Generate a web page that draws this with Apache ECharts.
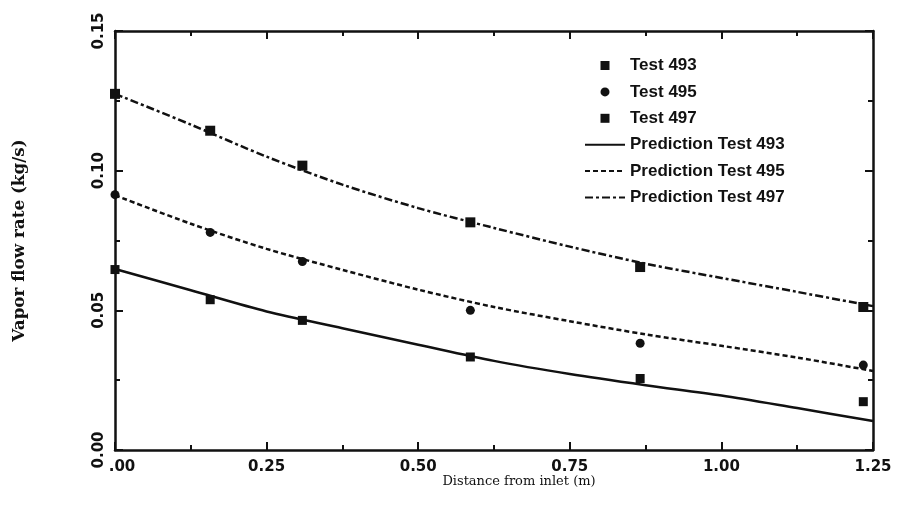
<!DOCTYPE html>
<html>
<head>
<meta charset="utf-8">
<script src="https://cdn.jsdelivr.net/npm/echarts@6/dist/echarts.min.js"></script>
<style>
  html, body { margin: 0; padding: 0; background: #fff; }
  #chart { width: 898px; height: 505px; }
</style>
</head>
<body>
<div id="chart"></div>
<script>
// Measured vapor flow rate at each station (m, kg/s)
const xMeasured = [0, 0.157, 0.309, 0.586, 0.866, 1.234];
const test493 = [0.0646, 0.0538, 0.0464, 0.0333, 0.0256, 0.0173];
const test495 = [0.0914, 0.0779, 0.0675, 0.0500, 0.0382, 0.0304];
const test497 = [0.1275, 0.1143, 0.1018, 0.0815, 0.0655, 0.0512];

// Model predictions along the tube
const xPredicted = [0, 0.125, 0.25, 0.375, 0.5, 0.625, 0.75, 0.875, 1.0, 1.125, 1.25];
const pred493 = [0.0648, 0.0572, 0.0496, 0.0436, 0.0377, 0.0319, 0.0272, 0.0232, 0.0195, 0.0150, 0.0104];
const pred495 = [0.0912, 0.0810, 0.0720, 0.0645, 0.0574, 0.0512, 0.0461, 0.0414, 0.0373, 0.0331, 0.0283];
const pred497 = [0.1275, 0.1165, 0.1050, 0.0950, 0.0866, 0.0795, 0.0728, 0.0667, 0.0616, 0.0566, 0.0515];

const xTicks = [0, 0.25, 0.5, 0.75, 1.0, 1.25];
const yTicks = [0, 0.05, 0.10, 0.15];

const pairs = (xs, ys) => xs.map((x, i) => [x, ys[i]]);

const INK = '#111';
const tickFont = { fontFamily: 'DejaVu Sans', fontWeight: 'bold', fontSize: 15, color: INK };

// A framed axis: thick line, major and minor ticks pointing into the plot
function axisBase(extra) {
  return Object.assign({
    type: 'value',
    axisLine: { show: true, onZero: false, lineStyle: { color: INK, width: 2.5 } },
    axisTick: { show: true, inside: true, length: 8, lineStyle: { color: INK, width: 2 } },
    minorTick: { show: true, splitNumber: 2, length: 5, lineStyle: { color: INK, width: 2 } },
    splitLine: { show: false },
    minorSplitLine: { show: false }
  }, extra);
}

const chart = echarts.init(document.getElementById('chart'), null, { renderer: 'canvas' });

const squareIcon = 'path://M0 0H10V10H0Z';
const hiddenMarker = { opacity: 0 };

chart.setOption({
  animation: false,
  backgroundColor: '#fff',
  grid: { left: 115, top: 31, right: 25, bottom: 55, containLabel: false },
  xAxis: [
    axisBase({
      position: 'bottom',
      min: xTicks[0], max: xTicks[xTicks.length - 1], interval: 0.25,
      name: 'Distance from inlet (m)',
      nameLocation: 'middle',
      nameGap: 25.5,
      nameMoveOverlap: false,
      nameTextStyle: { fontFamily: 'DejaVu Serif', fontSize: 13, color: INK, padding: [0, 0, 0, 50] },
      axisLabel: {
        margin: 10,
        formatter: v => v === 0 ? '{z|.00}' : v.toFixed(2),
        rich: { z: Object.assign({ padding: [0, 0, 0, 14] }, tickFont) },
        ...tickFont
      }
    }),
    axisBase({
      position: 'top',
      min: xTicks[0], max: xTicks[xTicks.length - 1], interval: 0.25,
      axisLabel: { show: false }
    })
  ],
  yAxis: [
    axisBase({
      position: 'left',
      min: yTicks[0], max: yTicks[yTicks.length - 1], interval: 0.05,
      name: 'Vapor flow rate (kg/s)',
      nameLocation: 'middle',
      nameRotate: 90,
      nameGap: 87,
      nameMoveOverlap: false,
      nameTextStyle: { fontFamily: 'DejaVu Serif', fontWeight: 'bold', fontSize: 16.8, color: INK },
      axisLabel: { rotate: 90, margin: 8, formatter: v => v.toFixed(2), ...tickFont }
    }),
    axisBase({
      position: 'right',
      min: yTicks[0], max: yTicks[yTicks.length - 1], interval: 0.05,
      axisLabel: { show: false }
    })
  ],
  legend: {
    orient: 'vertical',
    left: 584,
    top: 57,
    padding: 0,
    itemWidth: 40,
    itemHeight: 9,
    itemGap: 9.4,
    selectedMode: false,
    textStyle: { fontFamily: 'Liberation Sans', fontWeight: 'bold', fontSize: 17, color: INK },
    data: [
      { name: 'Test 493', icon: squareIcon },
      { name: 'Test 495', icon: 'circle' },
      { name: 'Test 497', icon: squareIcon },
      { name: 'Prediction Test 493', itemStyle: hiddenMarker },
      { name: 'Prediction Test 495', itemStyle: hiddenMarker },
      { name: 'Prediction Test 497', itemStyle: hiddenMarker }
    ]
  },
  series: [
    {
      name: 'Prediction Test 493', type: 'line', smooth: 0.3, symbol: 'none',
      data: pairs(xPredicted, pred493),
      lineStyle: { color: INK, width: 2.5, type: 'solid' }, itemStyle: { color: INK }, z: 2
    },
    {
      name: 'Prediction Test 495', type: 'line', smooth: 0.3, symbol: 'none',
      data: pairs(xPredicted, pred495),
      lineStyle: { color: INK, width: 2.5, type: [5, 3] }, itemStyle: { color: INK }, z: 2
    },
    {
      name: 'Prediction Test 497', type: 'line', smooth: 0.3, symbol: 'none',
      data: pairs(xPredicted, pred497),
      lineStyle: { color: INK, width: 2.5, type: [8, 3, 3, 3] }, itemStyle: { color: INK }, z: 2
    },
    {
      name: 'Test 493', type: 'scatter', symbol: 'rect', symbolSize: 9,
      data: pairs(xMeasured, test493), itemStyle: { color: INK, opacity: 1 }, z: 3
    },
    {
      name: 'Test 495', type: 'scatter', symbol: 'circle', symbolSize: 9,
      data: pairs(xMeasured, test495), itemStyle: { color: INK, opacity: 1 }, z: 3
    },
    {
      name: 'Test 497', type: 'scatter', symbol: 'rect', symbolSize: 10,
      data: pairs(xMeasured, test497), itemStyle: { color: INK, opacity: 1 }, z: 3
    }
  ]
});
</script>
</body>
</html>
